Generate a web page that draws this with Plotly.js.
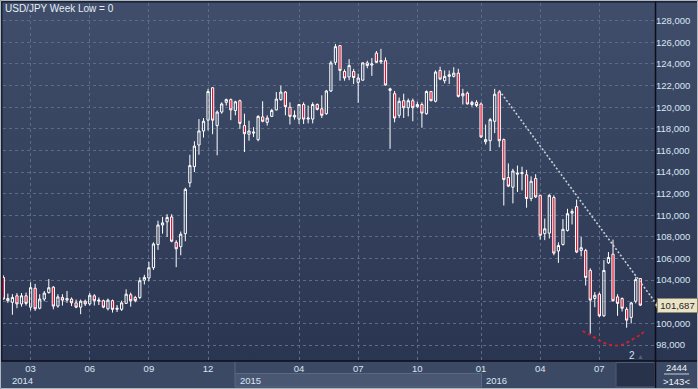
<!DOCTYPE html>
<html>
<head>
<meta charset="utf-8">
<script src="https://cdn.plot.ly/plotly-3.0.1.min.js"></script>
<style>
  html, body { margin: 0; padding: 0; background: #2b3652; }
  #chart { width: 698px; height: 389px; background: linear-gradient(to bottom, #404e6b 0px, #35425e 180px, #2a3551 361px, #2a3551 389px); }
</style>
</head>
<body>
<div id="chart"></div>
<script>
// ---- Data (weekly USD/JPY candles) ----
const openP = [104.25,102.3,101.95,102.55,101.8,102.55,101.5,103.25,101.4,102.25,
  102.85,103.35,101.6,102.4,102.15,102.25,101.9,101.5,102.05,101.8,
  102.55,102.05,102.1,101.35,102.1,101.3,101.3,101.85,102.65,102.4,
  102.4,104.0,104.2,105.15,107.3,109.1,109.4,109.85,107.5,107.1,
  108.3,113.0,114.5,116.5,117.8,118.8,121.8,118.3,119.55,120.45,
  120.7,119.7,120.6,118.3,117.5,117.6,117.0,119.1,118.6,119.15,
  119.75,120.7,121.4,120.0,119.25,118.9,120.25,118.9,118.9,120.25,
  119.85,119.4,121.5,124.15,125.7,123.3,122.8,123.3,122.3,122.5,
  124.1,123.9,125.0,124.2,124.3,121.55,121.25,119.25,120.6,119.95,
  120.6,120.05,120.25,119.4,121.45,120.55,123.4,122.45,122.85,122.85,
  123.15,121.05,121.3,120.25,120.45,120.3,116.8,116.9,118.7,121.4,
  117.0,113.5,112.6,113.8,113.85,113.75,111.55,113.4,111.85,108.3,
  108.35,111.65,106.7,107.3,108.6,110.2,110.8,106.75,106.75,104.9,
  102.3,102.7,100.7,105.6,106.4,102.45,102.3,101.3,100.55,102.05,
  104.15];
const highP = [104.45,102.75,102.7,102.8,102.8,102.85,103.8,103.65,102.7,103.0,
  104.1,103.45,102.7,102.7,103.0,102.4,102.2,102.2,102.2,102.8,
  102.7,102.4,102.2,102.3,102.2,101.7,102.1,103.15,102.85,102.55,
  104.25,104.5,105.7,107.5,109.5,109.85,110.1,110.1,107.7,108.5,
  112.55,115.6,116.85,118.9,119.0,121.7,121.85,119.7,120.45,120.8,
  120.8,120.6,120.7,119.4,118.75,118.15,119.25,120.55,119.25,119.85,
  121.4,122.0,121.5,120.45,119.7,120.3,120.45,120.15,120.45,120.35,
  121.1,121.6,124.3,125.85,125.75,123.5,124.45,123.55,123.1,124.15,
  124.3,124.55,125.2,125.4,124.6,121.8,121.5,120.9,121.25,120.8,
  120.8,120.5,120.45,121.55,121.5,123.4,123.75,123.4,123.4,123.7,
  123.55,121.7,121.45,120.6,120.65,120.45,118.4,119.0,121.7,121.55,
  117.1,114.8,114.3,114.6,114.5,114.2,113.6,113.8,111.9,109.7,
  111.95,111.85,107.5,109.65,110.6,110.6,111.45,108.0,106.9,105.1,
  102.9,102.85,105.85,106.6,107.75,102.7,102.4,101.5,102.0,104.3,
  104.2];
const lowP = [102.2,101.9,100.8,101.4,101.55,101.65,101.2,101.15,101.3,102.05,
  102.75,101.3,101.45,101.65,101.9,101.6,101.4,100.85,101.6,101.65,
  101.65,101.7,101.4,101.2,101.0,101.05,101.15,101.8,101.55,101.95,
  102.25,103.6,103.9,104.95,106.8,108.3,108.0,107.5,105.2,106.3,
  107.6,112.6,114.0,115.6,117.2,117.85,117.5,115.55,119.4,120.15,
  118.8,119.25,118.0,115.85,116.9,117.25,116.85,118.6,118.3,119.1,
  119.7,120.6,119.25,118.4,118.85,118.45,118.45,118.5,118.5,119.7,
  119.0,119.3,121.4,123.9,122.45,122.45,122.5,122.15,120.4,122.45,
  123.6,122.9,124.1,124.0,122.0,116.15,118.6,119.0,119.0,119.15,
  118.7,119.9,118.1,119.3,120.55,120.45,122.5,122.2,122.15,122.75,
  120.9,120.25,120.25,120.05,120.0,117.15,116.55,115.95,117.6,116.3,
  110.9,112.6,111.1,112.15,112.3,110.7,111.3,111.6,107.75,107.7,
  107.85,106.3,105.6,107.2,108.5,109.15,106.5,106.2,103.5,99.05,
  101.5,100.6,100.6,105.5,102.0,100.7,101.1,99.6,100.0,101.85,
  101.6];
const closeP = [102.25,102.1,102.4,101.8,102.55,101.85,103.3,101.35,102.25,102.8,
  103.3,101.6,102.45,102.15,102.3,101.9,101.5,102.05,101.8,102.6,
  102.1,102.15,101.5,102.15,101.3,101.4,101.9,102.7,102.1,102.1,
  103.95,104.25,105.15,107.35,109.1,109.3,109.8,107.6,106.9,108.25,
  112.4,114.6,116.4,117.8,118.7,121.45,118.8,119.55,120.3,120.7,
  119.75,120.5,118.5,117.55,117.8,117.7,119.15,118.7,119.0,119.7,
  120.75,121.4,120.05,119.15,119.1,120.25,118.9,119.0,120.25,119.8,
  119.25,121.5,124.1,125.6,123.4,122.7,123.85,122.75,122.7,124.1,
  123.85,124.0,124.15,124.3,122.05,121.7,119.0,120.55,119.95,120.6,
  119.95,120.25,119.45,121.45,120.6,123.25,122.6,122.85,123.0,123.15,
  121.0,121.25,120.3,120.45,120.15,117.25,117.0,118.85,121.2,116.9,
  113.3,112.7,114.1,113.9,113.95,111.55,113.15,111.7,108.15,108.75,
  111.85,106.5,107.2,108.7,110.15,110.35,106.6,107.0,104.25,102.15,
  102.6,100.7,104.9,106.1,102.1,101.85,101.4,100.3,101.9,104.05,
  101.687];

// Axis ticks
const priceTicks = [98,100,102,104,106,108,110,112,114,116,118,120,122,124,126,128];
const priceTickText = ['98,000','100,000','102,000','104,000','106,000','108,000','110,000','112,000','114,000','116,000','118,000','120,000','122,000','124,000','126,000','128,000'];
const monthTickBars = [6,19,32,45,65,78,91,105,118,131];
const monthTickText = ['03','06','09','12','04','07','10','01','04','07'];
const yearLabels = ['2014','2015','2016'];

// Drawn studies (trend line and rounded bottom)
const trendX = [109, 143.2];
const trendY = [121.55, 102.0];
const arcX = [127.3,129.0,130.8,132.6,134.4,136.3,138.1,139.9,141.4];
const arcY = [99.30,98.93,98.47,98.10,97.94,98.07,98.47,98.93,99.39];

const lastPrice = 101.687;
const lastPriceText = '101,687';

// ---- Layout helpers ----
const W = 698, H = 389, ML = 3, MR = 43, MT = 3, MB = 28;
const PW = W - ML - MR, PH = H - MT - MB;
const X = px => (px - ML) / PW;
const Y = py => (H - MB - py) / PH;

const barIdx = openP.map((_, i) => i);
const font = 'Liberation Sans, Arial, sans-serif';
const labelColor = '#d8e5f4';

const traces = [
  {
    type: 'candlestick',
    x: barIdx, open: openP, high: highP, low: lowP, close: closeP,
    increasing: { line: { color: '#ffffff', width: 1 }, fillcolor: 'rgba(0,0,0,0)' },
    decreasing: { line: { color: '#ffffff', width: 1 }, fillcolor: '#e3122f' },
    whiskerwidth: 0,
    hoverinfo: 'skip',
    showlegend: false
  },
  {
    type: 'scatter', mode: 'lines', x: trendX, y: trendY,
    line: { color: '#c9cdd4', width: 1.6, dash: '2px,2px' },
    hoverinfo: 'skip', showlegend: false
  },
  {
    type: 'scatter', mode: 'lines', x: arcX, y: arcY,
    line: { color: '#d41f2d', width: 1.8, dash: '3px,3px', shape: 'spline' },
    hoverinfo: 'skip', showlegend: false
  }
];

const shapes = [
  // bottom time panel
  { type: 'rect', xref: 'paper', yref: 'paper', x0: X(0), x1: X(698), y0: Y(389), y1: Y(361),
    fillcolor: '#3c4964', line: { width: 0 }, layer: 'below' },
  // 2015 year band
  { type: 'rect', xref: 'paper', yref: 'paper', x0: X(235), x1: X(481.5), y0: Y(387), y1: Y(373.5),
    fillcolor: '#4a5773', line: { color: '#5a6884', width: 1 }, layer: 'below' },
  { type: 'line', xref: 'paper', yref: 'paper', x0: X(235), x1: X(235), y0: Y(361), y1: Y(374),
    line: { color: '#5a6884', width: 1 } },
  // dark scroll box
  { type: 'rect', xref: 'paper', yref: 'paper', x0: X(616), x1: X(655), y0: Y(387), y1: Y(362.5),
    fillcolor: '#28324a', line: { color: '#4e5b75', width: 1 } },
  // separators
  { type: 'line', xref: 'paper', yref: 'paper', x0: X(0), x1: X(698), y0: Y(361), y1: Y(361),
    line: { color: '#0b0f18', width: 1.5 } },
  { type: 'line', xref: 'paper', yref: 'paper', x0: X(655.5), x1: X(655.5), y0: Y(1.5), y1: Y(389),
    line: { color: '#0b0f18', width: 1.5 } },
  // frame
  { type: 'line', xref: 'paper', yref: 'paper', x0: X(1.8), x1: X(1.8), y0: Y(1.5), y1: Y(361),
    line: { color: '#111725', width: 1.2 } },
  { type: 'line', xref: 'paper', yref: 'paper', x0: X(1.5), x1: X(698), y0: Y(1.8), y1: Y(1.8),
    line: { color: '#111725', width: 1.2 } },
  { type: 'rect', xref: 'paper', yref: 'paper', x0: X(0.5), x1: X(697.5), y0: Y(388.5), y1: Y(0.5),
    line: { color: '#aeb6c2', width: 1 } },
  // underline between counters
  { type: 'line', xref: 'paper', yref: 'paper', x0: X(664), x1: X(689), y0: Y(374), y1: Y(374),
    line: { color: '#c8d0dc', width: 1 } },
  // price tag pointer
  { type: 'path', xref: 'paper', yref: 'paper',
    path: `M ${X(659)} ${Y(298.5)} L ${X(655.5)} ${Y(305)} L ${X(659)} ${Y(311.5)} Z`,
    fillcolor: '#ebe4c4', line: { color: '#8f8a72', width: 1 } }
];

const ann = (text, px, py, opts) => Object.assign({
  text, xref: 'paper', yref: 'paper', x: X(px), y: Y(py), showarrow: false,
  xanchor: 'left', yanchor: 'middle', font: { family: font, size: 9.5, color: labelColor }
}, opts || {});

const annotations = [
  ann('USD/JPY Week Low = 0', 3, 8.5, { font: { family: font, size: 10, color: '#e6edf5' } }),
  ann(yearLabels[0], 10, 380.5),
  ann(yearLabels[1], 238, 380.5),
  ann(yearLabels[2], 484, 380.5),
  ann('2444', 676.5, 367, { xanchor: 'center', font: { family: font, size: 9.5, color: '#f0f4f8' } }),
  ann('&gt;143&lt;', 676.5, 381, { xanchor: 'center', font: { family: font, size: 9.5, color: '#f0f4f8' } }),
  ann('2', 631.5, 355.5, { xanchor: 'center', font: { family: font, size: 10, color: '#cfe0f2' } }),
  ann('▲', 640.5, 356, { xanchor: 'center', font: { family: font, size: 7, color: '#56627a' } }),
  { text: lastPriceText, xref: 'paper', yref: 'y', x: X(677), y: lastPrice, showarrow: false,
    xanchor: 'center', yanchor: 'middle', bgcolor: '#ebe4c4', bordercolor: '#8f8a72', borderwidth: 1,
    borderpad: 1, width: 37, height: 11,
    font: { family: font, size: 9.5, color: '#1b2233' } }
];

const layout = {
  width: W, height: H,
  margin: { l: ML, r: MR, t: MT, b: MB, pad: 0 },
  paper_bgcolor: 'rgba(0,0,0,0)',
  plot_bgcolor: 'rgba(0,0,0,0)',
  showlegend: false,
  hovermode: false,
  dragmode: false,
  xaxis: {
    type: 'linear', range: [-0.066, 143.23], autorange: false, fixedrange: true,
    tickmode: 'array', tickvals: monthTickBars, ticktext: monthTickText,
    showgrid: true, gridcolor: '#5c6b88', griddash: '3px,3px', gridwidth: 1,
    zeroline: false, showline: false, ticks: '',
    tickfont: { family: font, size: 9.5, color: labelColor },
    rangeslider: { visible: false }
  },
  yaxis: {
    side: 'right', range: [96.52, 129.64], autorange: false, fixedrange: true,
    tickmode: 'array', tickvals: priceTicks, ticktext: priceTickText,
    showgrid: true, gridcolor: '#5c6b88', griddash: '3px,3px', gridwidth: 1,
    zeroline: false, showline: false, ticks: '',
    tickfont: { family: font, size: 9.5, color: labelColor }
  },
  shapes, annotations
};

Plotly.newPlot('chart', traces, layout, { displayModeBar: false, staticPlot: true });
</script>
</body>
</html>
